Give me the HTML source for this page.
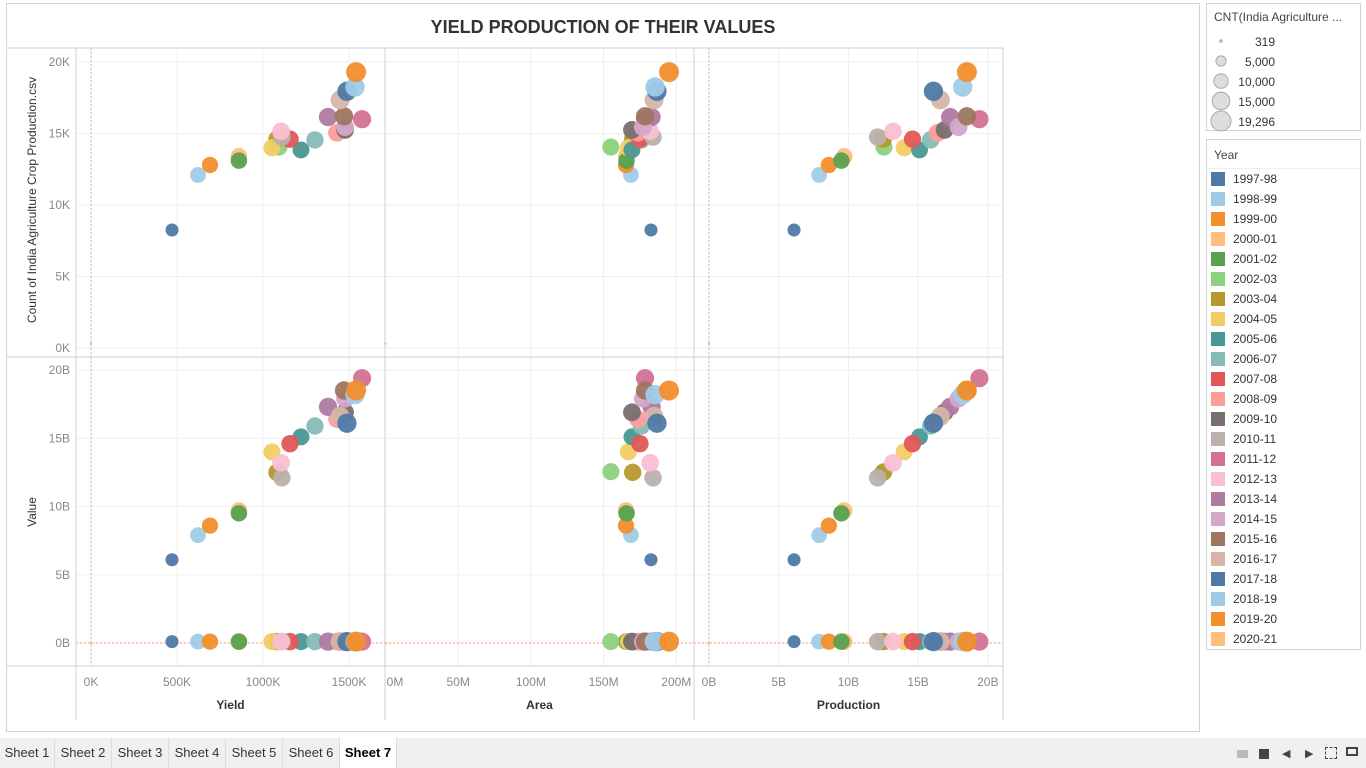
<!DOCTYPE html>
<html><head><meta charset="utf-8">
<style>
body{margin:0;width:1366px;height:768px;overflow:hidden;background:#fff;font-family:"Liberation Sans",sans-serif;position:relative}
#main{position:absolute;left:6px;top:3px;width:1192px;height:727px;border:1px solid #d4d4d4;background:#fff}
#tabs{position:absolute;left:0;top:738px;width:1366px;height:30px;background:#f0f0f0}
.tab{position:absolute;top:0;height:30px;line-height:30px;font-size:13px;color:#333;border-right:1px solid #ddd;text-align:center}
.legbox{position:absolute;left:1206px;border:1px solid #d4d4d4;background:transparent}
</style></head><body>
<div id="main"></div>
<div class="legbox" style="top:3px;width:153px;height:126px">
 <div style="position:absolute;left:7px;top:6px;font-size:12px;color:#444">CNT(India Agriculture ...</div>
</div>
<div class="legbox" style="top:139px;width:153px;height:509px">
 <div style="position:absolute;left:0;top:0;width:153px;height:28px;border-bottom:1px solid #eee"></div>
 <div style="position:absolute;left:7px;top:8px;font-size:12px;color:#444">Year</div>
 <div id="legitems"></div>
</div>
<svg id="chart" width="1366" height="768" style="position:absolute;left:0;top:0;pointer-events:none"></svg>
<div id="tabs">
 <div class="tab" style="left:0;width:54px">Sheet 1</div>
 <div class="tab" style="left:55px;width:56px">Sheet 2</div>
 <div class="tab" style="left:112px;width:56px">Sheet 3</div>
 <div class="tab" style="left:169px;width:56px">Sheet 4</div>
 <div class="tab" style="left:226px;width:56px">Sheet 5</div>
 <div class="tab" style="left:283px;width:56px">Sheet 6</div>
 <div class="tab" style="left:340px;width:56px;background:#fff;font-weight:bold;color:#000">Sheet 7</div>
 <div style="position:absolute;left:1237px;top:12px;width:11px;height:8px;background:#bbb"></div>
 <div style="position:absolute;left:1259px;top:11px;width:10px;height:10px;background:#444"></div>
 <div style="position:absolute;left:1282px;top:9px;font-size:11px;color:#444">◀</div>
 <div style="position:absolute;left:1305px;top:9px;font-size:11px;color:#444">▶</div>
 <div style="position:absolute;left:1325px;top:9px;width:10px;height:10px;border:1px dashed #444"></div>
 <div style="position:absolute;left:1346px;top:9px;width:12px;height:9px;border:2px solid #444;box-sizing:border-box"></div>
</div>
<script>
const years=["1997-98","1998-99","1999-00","2000-01","2001-02","2002-03","2003-04","2004-05","2005-06","2006-07","2007-08","2008-09","2009-10","2010-11","2011-12","2012-13","2013-14","2014-15","2015-16","2016-17","2017-18","2018-19","2019-20","2020-21"];
const counts=[8250,12100,12800,13400,13100,14050,14600,14000,13850,14550,14600,15050,15250,14750,16000,15150,16150,15450,16200,17350,17950,18250,19296,319];
const yields=[471,622,692,860,860,1093,1081,1052,1221,1302,1157,1430,1477,1110,1576,1105,1378,1477,1471,1448,1488,1535,1541,0];
const areas=[182.6,168.8,165.4,165.5,165.8,155,170,167,169.5,176,175,173.6,169.5,184,178.5,182,183,177,178.5,184.7,186.7,185.4,195,0];
const production=[6.1,7.9,8.6,9.7,9.5,12.55,12.5,14.0,15.1,15.9,14.6,16.4,16.9,12.1,19.4,13.2,17.3,17.9,18.5,16.6,16.1,18.2,18.5,0];
const values=[6.1,7.9,8.6,9.7,9.5,12.55,12.5,14.0,15.1,15.9,14.6,16.4,16.9,12.1,19.4,13.2,17.3,17.9,18.5,16.6,16.1,18.2,18.5,0];
const zeroValues=[0.1,0.1,0.1,0.1,0.1,0.1,0.1,0.1,0.1,0.1,0.1,0.1,0.1,0.1,0.1,0.1,0.1,0.1,0.1,0.1,0.1,0.1,0.1,0];
const colors=["#4e79a7","#a0cbe8","#f28e2b","#ffbe7d","#59a14f","#8cd17d","#b6992d","#f1ce63","#499894","#86bcb6","#e15759","#ff9d9a","#79706e","#bab0ac","#d37295","#fabfd2","#b07aa1","#d4a6c8","#9d7660","#d7b5a6","#4e79a7","#a0cbe8","#f28e2b","#ffbe7d"];
const yieldTicks=[0,500,1000,1500];
const areaTicks=[0,50,100,150,200];
const prodTicks=[0,5,10,15,20];
const countTicks=[0,5000,10000,15000,20000];
const valueTicks=[0,5,10,15,20];
const sizeLegend=[319,5000,10000,15000,19296];

const NS="http://www.w3.org/2000/svg";
const svg=document.getElementById('chart');
function el(t,a,p){const e=document.createElementNS(NS,t);for(const k in a)e.setAttribute(k,a[k]);(p||svg).appendChild(e);return e;}
const xY=v=>91+v/500*86, xA=v=>385.5+v/50*72.7, xP=v=>709+v/5*69.7;
const yC=v=>348-v/20000*286, yV=v=>643-v/20*273;
const rad=c=>Math.max(1.2,10*Math.sqrt(c/19296));
const cols=[{x0:76,x1:385,f:xY,ticks:yieldTicks,lab:v=>v+"K",title:"Yield",data:yields},
 {x0:385,x1:694,f:xA,ticks:areaTicks,lab:v=>v+"M",title:"Area",data:areas},
 {x0:694,x1:1003,f:xP,ticks:prodTicks,lab:v=>v+"B",title:"Production",data:production}];
const rows=[{y0:48,y1:357,f:yC,ticks:countTicks,lab:v=>(v/1000)+"K"},{y0:357,y1:666,f:yV,ticks:valueTicks,lab:v=>v+"B"}];
let t=el('text',{x:603,y:33,'text-anchor':'middle','font-size':18,fill:'#333','font-weight':'bold'});

t.textContent="YIELD PRODUCTION OF THEIR VALUES";
rows.forEach(r=>cols.forEach(c=>{
  c.ticks.forEach(v=>{const x=c.f(v);if(x>c.x0+2&&x<c.x1)el('line',{x1:x,x2:x,y1:r.y0,y2:r.y1,stroke:'#efefef'});});
  r.ticks.forEach(v=>{const y=r.f(v);el('line',{x1:c.x0,x2:c.x1,y1:y,y2:y,stroke:'#efefef'});});
  const zx=c.f(0); if(zx>c.x0+2) el('line',{x1:zx,x2:zx,y1:r.y0,y2:r.y1,stroke:'#bbb','stroke-dasharray':'2,2'});
  if(r===rows[1]) el('line',{x1:c.x0,x2:c.x1,y1:r.f(0),y2:r.f(0),stroke:'#f2a27a','stroke-dasharray':'2,2'});
}));
[76,385,694,1003].forEach(x=>el('line',{x1:x,x2:x,y1:48,y2:720,stroke:'#d0d0d0'}));
[48,357,666].forEach(y=>el('line',{x1:6,x2:1003,y1:y,y2:y,stroke:'#d0d0d0'}));
cols.forEach((c,ci)=>{c.ticks.forEach(v=>{const tx=el('text',{x:Math.max(c.f(v),c.x0+10),y:686,'text-anchor':'middle','font-size':12,fill:'#888'});
 tx.textContent=c.lab(v);});
 const tt=el('text',{x:(c.x0+c.x1)/2,y:709,'text-anchor':'middle','font-size':12,fill:'#333','font-weight':'bold'});
 tt.textContent=c.title;});
rows.forEach(r=>r.ticks.forEach(v=>{const tx=el('text',{x:70,y:r.f(v)+4,'text-anchor':'end','font-size':12,fill:'#888'});
 tx.textContent=r.lab(v);}));
let yt=el('text',{transform:'translate(36,200) rotate(-90)','text-anchor':'middle','font-size':12,fill:'#333'});
yt.textContent="Count of India Agriculture Crop Production.csv";
yt=el('text',{transform:'translate(36,512) rotate(-90)','text-anchor':'middle','font-size':12,fill:'#333'});
yt.textContent="Value";
cols.forEach(c=>{
  years.forEach((y,i)=>{
    let m=el('circle',{cx:c.f(c.data[i]),cy:yC(counts[i]),r:rad(counts[i]),fill:colors[i],'fill-opacity':0.95});
    
    
  });
  years.forEach((y,i)=>{
    let m=el('circle',{cx:c.f(c.data[i]),cy:yV(zeroValues[i]),r:rad(counts[i]),fill:colors[i],'fill-opacity':0.95});
    
    
  });
  years.forEach((y,i)=>{
    let m=el('circle',{cx:c.f(c.data[i]),cy:yV(values[i]),r:rad(counts[i]),fill:colors[i],'fill-opacity':0.95});
    
    
  });
});
sizeLegend.forEach((s,i)=>{
  const cy=41+i*20;
  let c=el('circle',{cx:1221,cy:cy,r:rad(s),fill:'#ddd',stroke:'#aaa'});
  
  
  let tx=el('text',{x:1275,y:cy+5,'text-anchor':'end','font-size':12,fill:'#333'});
  
  
  tx.textContent=s.toLocaleString('en-US');
});
const li=document.getElementById('legitems');
years.forEach((y,i)=>{
  const d=document.createElement('div');
  
  
  d.style.cssText='position:absolute;left:4px;top:'+(32+i*20)+'px;height:14px;font-size:12px;color:#333;line-height:14px';
  d.innerHTML='<span style="display:inline-block;width:14px;height:14px;background:'+colors[i]+';vertical-align:top;margin-right:8px"></span>'+y;
  li.appendChild(d);
});
</script>
</body></html>
